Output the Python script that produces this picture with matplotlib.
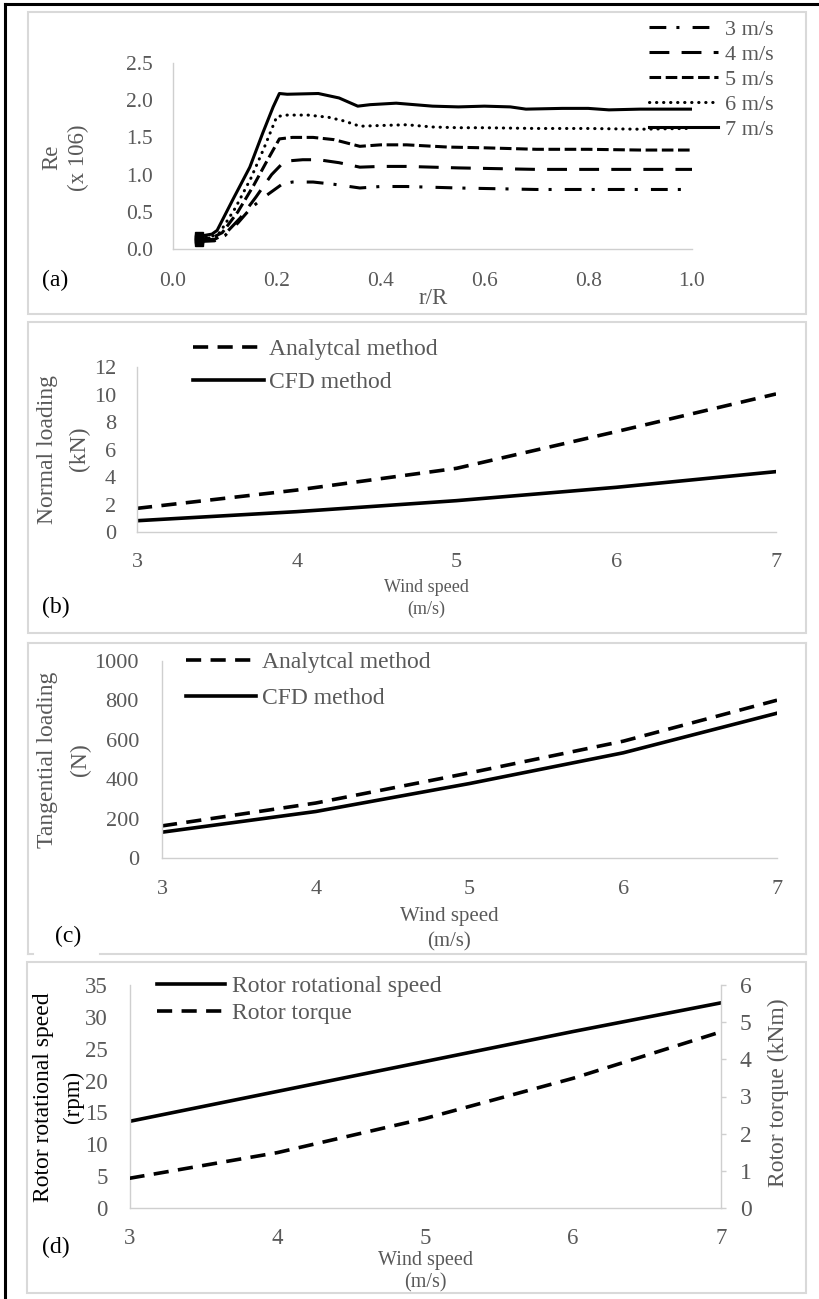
import matplotlib
matplotlib.use("Agg")
import matplotlib.pyplot as plt
from matplotlib.lines import Line2D
from matplotlib.patches import Rectangle

# ---------------- data ----------------
# (a) Reynolds number (x 10^6) along the blade
r3 = [0.05, 0.08, 0.10, 0.125, 0.15, 0.18, 0.21, 0.23, 0.27, 0.31, 0.36, 0.40, 0.45, 0.55, 0.70, 0.85, 1.00]
re3 = [0.10, 0.11, 0.18, 0.35, 0.55, 0.72, 0.87, 0.90, 0.90, 0.87, 0.82, 0.84, 0.84, 0.82, 0.80, 0.80, 0.80]
r4 = [0.05, 0.08, 0.10, 0.13, 0.16, 0.19, 0.215, 0.25, 0.28, 0.32, 0.36, 0.40, 0.45, 0.55, 0.70, 0.85, 1.00]
re4 = [0.12, 0.13, 0.20, 0.42, 0.70, 1.00, 1.18, 1.20, 1.20, 1.16, 1.10, 1.11, 1.11, 1.09, 1.07, 1.07, 1.07]
r5 = [0.05, 0.075, 0.095, 0.125, 0.155, 0.18, 0.205, 0.23, 0.27, 0.31, 0.36, 0.40, 0.45, 0.53, 0.60, 0.70, 0.80, 0.90, 1.00]
re5 = [0.13, 0.15, 0.22, 0.50, 0.85, 1.17, 1.48, 1.50, 1.50, 1.47, 1.38, 1.40, 1.40, 1.37, 1.36, 1.34, 1.34, 1.33, 1.33]
r6 = [0.05, 0.075, 0.09, 0.12, 0.15, 0.175, 0.20, 0.22, 0.26, 0.30, 0.33, 0.36, 0.40, 0.45, 0.50, 0.55, 0.60, 0.70, 0.80, 0.90, 0.99]
re6 = [0.15, 0.17, 0.22, 0.55, 0.95, 1.35, 1.78, 1.80, 1.80, 1.77, 1.72, 1.65, 1.66, 1.67, 1.64, 1.63, 1.63, 1.62, 1.62, 1.61, 1.62]
r7 = [0.05, 0.075, 0.085, 0.115, 0.148, 0.173, 0.193, 0.205, 0.22, 0.28, 0.32, 0.356, 0.38, 0.43, 0.50, 0.55, 0.60, 0.65, 0.68, 0.75, 0.80, 0.84, 0.90, 1.00]
re7 = [0.17, 0.20, 0.25, 0.66, 1.10, 1.56, 1.91, 2.09, 2.08, 2.09, 2.03, 1.92, 1.94, 1.96, 1.92, 1.91, 1.92, 1.91, 1.88, 1.89, 1.89, 1.87, 1.88, 1.88]
re_labels = ["3 m/s", "4 m/s", "5 m/s", "6 m/s", "7 m/s"]

# (b)-(d) versus wind speed
wind = [3, 4, 5, 6, 7]
normal_analytical = [1.72, 3.05, 4.63, 7.30, 10.04]   # kN
normal_cfd = [0.82, 1.48, 2.28, 3.25, 4.39]           # kN
tang_analytical = [163, 279, 432, 593, 801]           # N
tang_cfd = [131, 236, 378, 534, 735]                  # N
rotor_speed = [13.6, 18.3, 23.0, 27.7, 32.2]          # rpm
rotor_torque = [0.80, 1.49, 2.41, 3.49, 4.74]         # kNm

method_labels = ["Analytcal method", "CFD method"]
rotor_labels = ["Rotor rotational speed", "Rotor torque"]

# ---------------- style ----------------
W, H = 819, 1299
plt.rcParams['font.family'] = ['Liberation Serif', 'DejaVu Serif']
GREY = '#595959'
AXC = '#cfcfcf'
BOX = '#d9d9d9'

fig = plt.figure(figsize=(W / 100, H / 100), dpi=100)
fig.patch.set_facecolor('white')


def add_axes(x0, x1, ytop, ybot):
    return fig.add_axes([x0 / W, 1 - ybot / H, (x1 - x0) / W, (ybot - ytop) / H])


def ftext(px, py, s, size, color=GREY, rot=0, ha='center', va='center'):
    fig.text(px / W, 1 - py / H, s, fontsize=size, color=color, rotation=rot,
             ha=ha, va=va)


def style_axes(ax, ypad, xpad, tsize):
    for s in ['top', 'right']:
        ax.spines[s].set_visible(False)
    for s in ['left', 'bottom']:
        ax.spines[s].set_color(AXC)
        ax.spines[s].set_linewidth(1.0)
    ax.tick_params(axis='both', length=0, labelcolor=GREY, labelsize=tsize)
    ax.tick_params(axis='y', pad=ypad)
    ax.tick_params(axis='x', pad=xpad)
    ax.patch.set_alpha(0)


def legend(ax, handles, labels, x, y_first, size, hlen_px, pad_px, spacing):
    fs_px = size * 100 / 72
    ax.legend(handles, labels, loc='upper left',
              bbox_to_anchor=(x / W, 1 - (y_first - 0.4 * fs_px) / H),
              bbox_transform=fig.transFigure, frameon=False, borderpad=0,
              borderaxespad=0, handlelength=hlen_px / fs_px,
              handletextpad=pad_px / fs_px, labelspacing=spacing,
              prop={'size': size}, labelcolor=GREY)


def box(x0, x1, y0, y1):
    fig.add_artist(Rectangle((x0 / W, 1 - y1 / H), (x1 - x0) / W, (y1 - y0) / H,
                             transform=fig.transFigure, fill=False,
                             edgecolor=BOX, lw=1.5))


# panel frames
box(28, 806, 12, 314)
box(28, 806, 322, 633)
# panel (c) frame with a gap at the label
for xs, ys in [([28, 806], [643, 643]), ([28, 28], [643, 954]), ([806, 806], [643, 954]),
               ([28, 33], [954, 954]), ([100, 806], [954, 954])]:
    fig.add_artist(Line2D([v / W for v in xs], [1 - v / H for v in ys],
                          transform=fig.transFigure, color=BOX, lw=1.5))
box(27, 806, 962, 1293)
# outer black border (top and left)
fig.add_artist(Line2D([5 / W, 1.0], [1 - 3.5 / H, 1 - 3.5 / H], transform=fig.transFigure,
                      color='black', lw=2.2))
fig.add_artist(Line2D([5 / W, 5 / W], [1 - 3.5 / H, 0.0], transform=fig.transFigure,
                      color='black', lw=2.2))

# ---------------- (a) ----------------
axa = add_axes(173, 692, 63, 249)
lw_a = 2.2
series = [
    (r3, re3, dict(linestyle=(0, (5.5, 3.3, 1.0, 4.3)))),
    (r4, re4, dict(linestyle=(0, (6.5, 4.0)))),
    (r5, re5, dict(linestyle=(0, (3.8, 1.5)))),
    (r6, re6, dict(linestyle=(0, (0.1, 2.2)), dash_capstyle='round')),
    (r7, re7, dict(linestyle='-')),
]
for (xr, yr, st), lab in zip(series, re_labels):
    axa.plot(xr, yr, color='black', lw=lw_a, marker='s', markersize=6,
             markevery=[0], label=lab, **st)
axa.set_xlim(0, 1.0)
axa.set_ylim(0, 2.5)
axa.set_xticks([0, 0.2, 0.4, 0.6, 0.8, 1.0])
axa.set_xticklabels(['0.0', '0.2', '0.4', '0.6', '0.8', '1.0'])
axa.set_yticks([0, 0.5, 1.0, 1.5, 2.0, 2.5])
axa.set_yticklabels(['0.0', '0.5', '1.0', '1.5', '2.0', '2.5'])
style_axes(axa, 14.4, 16.6, 15.5)
leg_handles = [Line2D([], [], color='black', lw=lw_a, **st) for _, _, st in series]
legend(axa, leg_handles, re_labels, 649, 28, 16, 69, 7, 0.2)
ftext(52, 157, 'Re', 16.5, rot=90)
ftext(78, 158, '(x 106)', 16.5, rot=90)
ftext(433, 299, 'r/R', 16.5)
ftext(42, 280, '(a)', 17, color='black', ha='left')

# ---------------- (b) ----------------
axb = add_axes(137, 776, 367, 532)
lw_b = 2.6
axb.plot(wind, normal_analytical, color='black', lw=lw_b, linestyle=(0, (4.2, 2.6)))
axb.plot(wind, normal_cfd, color='black', lw=lw_b)
axb.set_xlim(3, 7)
axb.set_ylim(0, 12)
axb.set_xticks(wind)
axb.set_yticks(range(0, 13, 2))
style_axes(axb, 15.1, 15.1, 16)
legend(axb, [Line2D([], [], color='black', lw=lw_b, linestyle=(0, (4.2, 2.6))),
             Line2D([], [], color='black', lw=lw_b)],
       method_labels, 193, 348, 17, 71, 5, 0.5)
ftext(48, 449, 'Normal loading', 17, rot=90)
ftext(79, 449, '(kN)', 17, rot=90)
ftext(426, 587, 'Wind speed', 13)
ftext(426, 609, '(m/s)', 13)
ftext(42, 607, '(b)', 17, color='black', ha='left')

# ---------------- (c) ----------------
axc = add_axes(162, 777, 661, 858)
axc.plot(wind, tang_analytical, color='black', lw=lw_b, linestyle=(0, (4.2, 2.6)))
axc.plot(wind, tang_cfd, color='black', lw=lw_b)
axc.set_xlim(3, 7)
axc.set_ylim(0, 1000)
axc.set_xticks(wind)
axc.set_yticks(range(0, 1001, 200))
style_axes(axc, 16.6, 15.8, 16)
legend(axc, [Line2D([], [], color='black', lw=lw_b, linestyle=(0, (4.2, 2.6))),
             Line2D([], [], color='black', lw=lw_b)],
       method_labels, 186, 661, 17, 70, 6, 0.62)
ftext(48, 760, 'Tangential loading', 17, rot=90)
ftext(80, 760, '(N)', 17, rot=90)
ftext(449, 916, 'Wind speed', 15)
ftext(449, 942, '(m/s)', 15)
ftext(55, 936, '(c)', 17, color='black', ha='left')

# ---------------- (d) ----------------
axd = add_axes(129.5, 721, 985, 1208)
axd.plot(wind, rotor_speed, color='black', lw=lw_b)
axd.set_xlim(3, 7)
axd.set_ylim(0, 35)
axd.set_xticks(wind)
axd.set_yticks(range(0, 36, 5))
style_axes(axd, 15.5, 14.5, 16.5)
axd2 = axd.twinx()
axd2.plot(wind, rotor_torque, color='black', lw=lw_b, linestyle=(0, (4.2, 2.6)))
axd2.set_ylim(0, 6)
axd2.set_yticks(range(0, 7))
for s in ['top', 'left', 'bottom']:
    axd2.spines[s].set_visible(False)
axd2.spines['right'].set_color(AXC)
axd2.spines['right'].set_linewidth(1.0)
axd2.tick_params(axis='y', length=3.6, width=1.0, color=AXC, labelcolor=GREY,
                 labelsize=17, pad=10, direction='out')
legend(axd2, [Line2D([], [], color='black', lw=lw_b),
              Line2D([], [], color='black', lw=lw_b, linestyle=(0, (4.2, 2.6)))],
       rotor_labels, 157, 985, 17, 68, 7, 0.22)
ftext(44, 1097, 'Rotor rotational speed', 17, color='black', rot=90)
ftext(73, 1097, '(rpm)', 16.5, color='black', rot=90)
ftext(778, 1093, 'Rotor torque (kNm)', 17, rot=90)
ftext(425, 1261, 'Wind speed', 14.5)
ftext(425, 1283, '(m/s)', 14.5)
ftext(42, 1247, '(d)', 17, color='black', ha='left')

fig.savefig('out.png', dpi=100, facecolor='white')
